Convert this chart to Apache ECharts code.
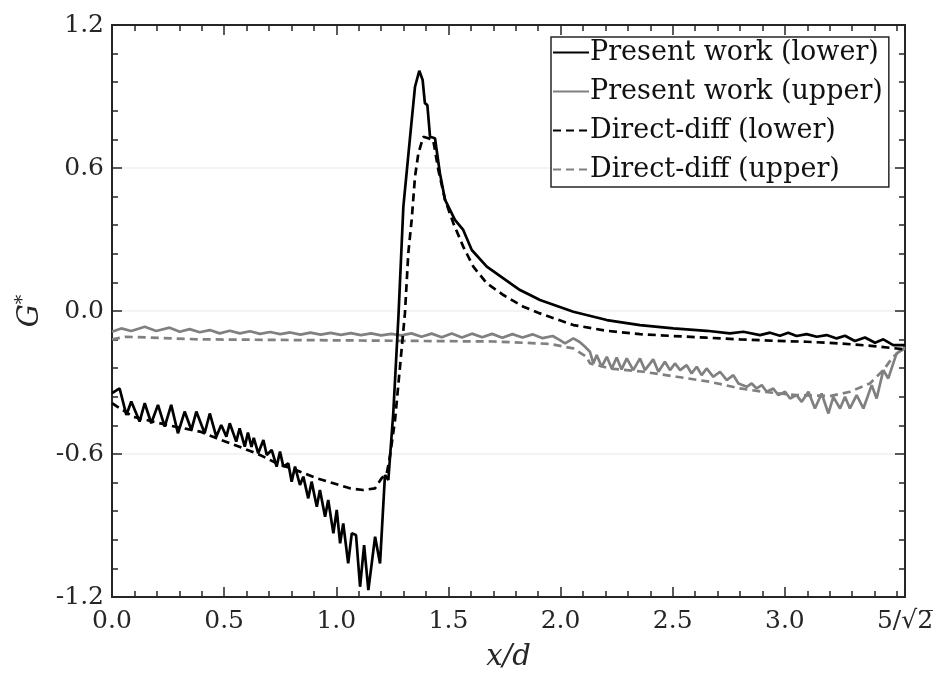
<!DOCTYPE html>
<html>
<head>
<meta charset="utf-8">
<script src="https://cdn.jsdelivr.net/npm/echarts@6/dist/echarts.min.js"></script>
<style>
html,body{margin:0;padding:0;background:#fff;}
#chart{width:944px;height:682px;}
</style>
</head>
<body>
<div id="chart"></div>
<script>
var X_MAX = 5 / Math.sqrt(2);

// 刻度
var xMajorTicks = [0, 0.5, 1.0, 1.5, 2.0, 2.5, 3.0, X_MAX];
var xTickLabels = ['0.0', '0.5', '1.0', '1.5', '2.0', '2.5', '3.0', '5/√2̅'];
var xMinorTicks = [0.1,0.2,0.3,0.4, 0.6,0.7,0.8,0.9, 1.1,1.2,1.3,1.4, 1.6,1.7,1.8,1.9,
                   2.1,2.2,2.3,2.4, 2.6,2.7,2.8,2.9, 3.1,3.2,3.3,3.4,3.5];

// Present work (lower)
var pwLowerX = [0.000,0.034,0.064,0.086,0.123,0.146,0.175,0.205,0.235,0.264,0.294,0.324,0.354,0.376,
  0.413,0.436,0.465,0.487,0.510,0.525,0.554,0.569,0.592,0.606,0.622,0.632,0.652,0.675,0.690,0.712,
  0.734,0.749,0.764,0.786,0.801,0.816,0.838,0.853,0.875,0.890,0.913,0.927,0.950,0.964,0.987,1.002,
  1.017,1.031,1.053,1.069,1.088,1.106,1.124,1.143,1.173,1.195,1.217,1.232,1.254,1.277,1.299,1.329,
  1.351,1.370,1.385,1.395,1.406,1.418,1.440,1.462,1.485,1.529,1.566,1.604,1.671,1.745,1.819,1.864,
  1.908,2.057,2.206,2.354,2.503,2.651,2.755,2.815,2.889,2.934,2.978,3.015,3.052,3.097,3.142,3.186,
  3.231,3.268,3.312,3.357,3.402,3.439,3.483,3.535];
var pwLowerY = [-0.345,-0.325,-0.436,-0.380,-0.464,-0.387,-0.471,-0.394,-0.485,-0.394,-0.513,-0.422,-0.499,-0.422,
  -0.513,-0.430,-0.527,-0.478,-0.527,-0.471,-0.548,-0.492,-0.569,-0.510,-0.570,-0.532,-0.597,-0.541,-0.604,-0.583,
  -0.653,-0.590,-0.653,-0.639,-0.716,-0.653,-0.730,-0.695,-0.786,-0.716,-0.821,-0.751,-0.863,-0.793,-0.933,-0.835,
  -0.975,-0.891,-1.059,-0.933,-0.940,-1.157,-0.982,-1.171,-0.947,-1.059,-0.688,-0.709,-0.429,-0.024,0.438,0.731,
  0.941,1.008,0.969,0.872,0.864,0.731,0.725,0.578,0.466,0.382,0.340,0.256,0.186,0.137,0.088,0.067,
  0.046,-0.003,-0.038,-0.059,-0.073,-0.083,-0.094,-0.087,-0.101,-0.091,-0.104,-0.091,-0.105,-0.097,-0.108,-0.101,
  -0.115,-0.104,-0.126,-0.111,-0.133,-0.119,-0.143,-0.143];

// Present work (upper)
var pwUpperX = [0.000,0.041,0.086,0.146,0.197,0.257,0.302,0.346,0.391,0.436,0.480,0.525,0.570,0.615,
  0.660,0.705,0.750,0.795,0.840,0.885,0.930,0.975,1.020,1.065,1.110,1.155,1.200,1.245,1.290,1.335,
  1.380,1.425,1.470,1.515,1.560,1.605,1.650,1.695,1.740,1.785,1.830,1.875,1.920,1.965,1.997,2.020,
  2.057,2.085,2.109,2.131,2.146,2.161,2.183,2.206,2.228,2.250,2.272,2.295,2.324,2.354,2.376,2.413,
  2.436,2.465,2.488,2.510,2.533,2.562,2.584,2.607,2.629,2.651,2.681,2.711,2.741,2.770,2.793,2.830,
  2.852,2.874,2.897,2.919,2.948,2.971,3.001,3.023,3.052,3.075,3.105,3.134,3.164,3.194,3.216,3.246,
  3.268,3.290,3.320,3.350,3.387,3.409,3.439,3.461,3.498,3.535];
var pwUpperY = [-0.087,-0.073,-0.084,-0.066,-0.084,-0.070,-0.087,-0.076,-0.089,-0.080,-0.094,-0.083,-0.094,-0.085,
  -0.096,-0.088,-0.097,-0.090,-0.099,-0.091,-0.099,-0.092,-0.100,-0.093,-0.101,-0.094,-0.102,-0.096,-0.102,-0.094,
  -0.108,-0.095,-0.110,-0.094,-0.111,-0.095,-0.110,-0.096,-0.112,-0.097,-0.111,-0.098,-0.114,-0.105,-0.122,-0.136,
  -0.115,-0.130,-0.150,-0.171,-0.220,-0.185,-0.234,-0.192,-0.241,-0.195,-0.245,-0.199,-0.248,-0.199,-0.248,-0.203,
  -0.255,-0.213,-0.248,-0.220,-0.248,-0.227,-0.262,-0.234,-0.269,-0.241,-0.276,-0.255,-0.290,-0.269,-0.304,-0.318,
  -0.304,-0.325,-0.311,-0.339,-0.325,-0.353,-0.339,-0.367,-0.353,-0.381,-0.339,-0.409,-0.346,-0.430,-0.360,-0.409,
  -0.360,-0.409,-0.353,-0.409,-0.311,-0.367,-0.248,-0.283,-0.178,-0.157];

// Direct-diff (lower)
var ddLowerX = [0.000,0.095,0.244,0.392,0.467,0.585,0.660,0.734,0.838,0.913,0.987,1.061,1.120,1.173,
  1.202,1.225,1.239,1.262,1.284,1.306,1.321,1.336,1.351,1.366,1.388,1.410,1.432,1.455,1.485,1.522,
  1.566,1.611,1.671,1.745,1.834,1.908,2.057,2.206,2.354,2.503,2.651,2.800,2.948,3.097,3.246,3.394,3.535];
var ddLowerY = [-0.387,-0.444,-0.478,-0.506,-0.534,-0.576,-0.604,-0.639,-0.674,-0.702,-0.723,-0.744,-0.751,-0.744,
  -0.702,-0.681,-0.611,-0.457,-0.234,-0.010,0.242,0.382,0.564,0.662,0.731,0.725,0.718,0.592,0.466,0.368,
  0.270,0.186,0.116,0.067,0.018,-0.010,-0.059,-0.083,-0.097,-0.105,-0.112,-0.119,-0.125,-0.129,-0.136,-0.147,-0.161];

// Direct-diff (upper)
var ddUpperX = [0.000,0.060,0.392,0.838,1.269,1.700,1.950,2.057,2.116,2.131,2.220,2.369,2.518,2.666,
  2.800,2.904,3.052,3.201,3.290,3.379,3.439,3.483,3.535];
var ddUpperY = [-0.119,-0.108,-0.119,-0.122,-0.125,-0.128,-0.138,-0.157,-0.192,-0.220,-0.241,-0.255,-0.276,-0.297,
  -0.325,-0.339,-0.353,-0.357,-0.339,-0.304,-0.248,-0.192,-0.150];

function zip(xs, ys){
	var out = [];
	for (var i = 0; i < xs.length; i++) out.push([xs[i], ys[i]]);
	return out;
}

var FONT = 'DejaVu Serif';
var FRAME = '#262626';

var myChart = echarts.init(document.getElementById('chart'));

function xAx(pos, ticks, len, showLabel){
	return {
		type: 'value', min: 0, max: X_MAX, position: pos,
		axisLine: {show: true, onZero: false, lineStyle: {color: FRAME, width: 2}},
		axisTick: {show: true, inside: true, length: len, customValues: ticks, lineStyle: {color: FRAME, width: 1.5}},
		axisLabel: showLabel ? {
			show: true, customValues: xMajorTicks, margin: 12, color: '#262626',
			fontFamily: FONT, fontSize: 25,
			formatter: function(v){
				for (var i = 0; i < xMajorTicks.length; i++) if (Math.abs(v - xMajorTicks[i]) < 1e-6) return xTickLabels[i];
				return '';
			}
		} : {show: false},
		splitLine: {show: false}
	};
}

function yAx(pos, showLabel){
	return {
		type: 'value', min: -1.2, max: 1.2, interval: 0.6, position: pos,
		axisLine: {show: true, onZero: false, lineStyle: {color: FRAME, width: 2}},
		axisTick: {show: true, inside: true, length: 10, lineStyle: {color: FRAME, width: 1.5}},
		minorTick: {show: true, splitNumber: 5, length: 6, lineStyle: {color: FRAME, width: 1.5}},
		axisLabel: showLabel ? {
			show: true, margin: 8, color: '#262626', fontFamily: FONT, fontSize: 25,
			formatter: function(v){ return v.toFixed(1); }
		} : {show: false},
		splitLine: {show: showLabel, lineStyle: {color: '#f0f0f0', width: 1.5}}
	};
}

var xb = xAx('bottom', xMajorTicks, 10, true);
xb.name = 'x/d';
xb.nameLocation = 'middle';
xb.nameGap = 46;
xb.nameTextStyle = {fontFamily: FONT, fontStyle: 'italic', fontSize: 29, color: '#262626'};

var yl = yAx('left', true);
yl.name = '{g|G}{s|*}';
yl.nameLocation = 'middle';
yl.nameGap = 64;
yl.nameRotate = 90;
yl.nameTextStyle = {
	rich: {
		g: {fontFamily: FONT, fontStyle: 'italic', fontSize: 29, color: '#262626'},
		s: {fontFamily: FONT, fontSize: 19, color: '#262626', padding: [0, 0, 14, 0]}
	}
};

var option = {
	animation: false,
	backgroundColor: '#fff',
	grid: {left: 112, right: 39, top: 25, bottom: 85},
	legend: {
		orient: 'vertical', left: 551, top: 37,
		itemStyle: {color: 'rgba(0,0,0,0)', borderColor: 'rgba(0,0,0,0)', borderWidth: 0},
		backgroundColor: '#fff',
		borderColor: FRAME, borderWidth: 1.5, borderRadius: 0,
		padding: [2, 6, 4, 1],
		itemWidth: 36, itemHeight: 14, itemGap: 12,
		textStyle: {fontFamily: FONT, fontSize: 27, color: '#111', padding: [0, 0, 0, -4]},
		data: ['Present work (lower)', 'Present work (upper)', 'Direct-diff (lower)', 'Direct-diff (upper)']
	},
	xAxis: [
		xb,
		xAx('bottom', xMinorTicks, 6, false),
		xAx('top', xMajorTicks, 10, false),
		xAx('top', xMinorTicks, 6, false)
	],
	yAxis: [yl, yAx('right', false)],
	series: [
		{
			name: 'Present work (lower)', type: 'line', symbol: 'none',
			lineStyle: {color: '#000', width: 2.7}, itemStyle: {color: '#000'},
			data: zip(pwLowerX, pwLowerY), z: 4
		},
		{
			name: 'Present work (upper)', type: 'line', symbol: 'none',
			lineStyle: {color: '#808080', width: 2.7}, itemStyle: {color: '#808080'},
			data: zip(pwUpperX, pwUpperY), z: 3
		},
		{
			name: 'Direct-diff (lower)', type: 'line', symbol: 'none',
			lineStyle: {color: '#000', width: 2.7, type: [8, 5]}, itemStyle: {color: '#000'},
			data: zip(ddLowerX, ddLowerY), z: 4
		},
		{
			name: 'Direct-diff (upper)', type: 'line', symbol: 'none',
			lineStyle: {color: '#808080', width: 2.7, type: [8, 5]}, itemStyle: {color: '#808080'},
			data: zip(ddUpperX, ddUpperY), z: 3
		}
	]
};
myChart.setOption(option);
</script>
</body>
</html>
